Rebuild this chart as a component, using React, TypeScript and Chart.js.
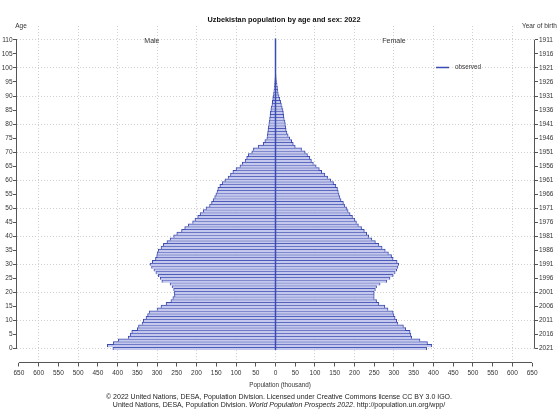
import React, { useEffect, useRef } from 'react';
import { Chart, registerables } from 'chart.js';

Chart.register(...registerables);

// Population (thousand) by single year of age 0..100
const maleValues = [
  412, 426, 411, 398, 373, 368, 364, 350, 347, 338,
  335, 328, 324, 320, 300, 290, 277, 265, 260, 256,
  256, 258, 262, 267, 288, 292, 297, 303, 308, 314,
  318, 312, 304, 301, 300, 297, 290, 284, 275, 267,
  258, 250, 238, 230, 221, 210, 204, 197, 191, 183,
  176, 167, 162, 158, 154, 151, 148, 146, 141, 135,
  128, 120, 114, 108, 100, 90, 84, 77, 73, 69,
  60, 56, 44, 31, 27, 22, 21, 20, 19, 18,
  17, 16, 15, 14, 13, 12, 11, 9, 8, 7,
  6, 5, 4, 3, 2.5, 2, 1.5, 1, 0.7, 0.5,
  0.4,
];
const femaleValues = [
  383, 396, 385, 366, 345, 343, 341, 330, 324, 310,
  307, 303, 300, 298, 285, 277, 262, 256, 250, 250,
  250, 253, 256, 265, 282, 290, 298, 303, 307, 310,
  312, 308, 298, 294, 286, 278, 270, 262, 253, 244,
  236, 231, 225, 218, 210, 205, 201, 195, 189, 184,
  180, 175, 172, 166, 163, 161, 159, 157, 153, 147,
  140, 132, 125, 117, 111, 103, 96, 91, 87, 81,
  75, 66, 50, 45, 41, 36, 32, 29, 27, 26,
  25, 24, 22, 21, 20, 19, 17, 15, 13, 11,
  9, 7, 6, 5, 4, 3, 2, 1.5, 1, 0.7,
  0.5,
];
const ages = maleValues.map((_, i) => i);
const ageTicks = [0, 5, 10, 15, 20, 25, 30, 35, 40, 45, 50, 55, 60, 65, 70, 75, 80, 85, 90, 95, 100, 105, 110];
const populationTicks = [
  -650, -600, -550, -500, -450, -400, -350, -300, -250, -200, -150, -100, -50, 0,
  50, 100, 150, 200, 250, 300, 350, 400, 450, 500, 550, 600, 650,
];
const referenceYear = 2021;
const titleText = 'Uzbekistan population by age and sex: 2022';
const legendLabel = 'observed';
const footerLine1 = '\u00A9 2022 United Nations, DESA, Population Division. Licensed under Creative Commons license CC BY 3.0 IGO.';
const footerLine2a = 'United Nations, DESA, Population Division. ';
const footerLine2b = 'World Population Prospects 2022';
const footerLine2c = '. http://population.un.org/wpp/';

const FONT = '"Liberation Sans", Arial, Helvetica, sans-serif';
const BAR_BORDER = '#3c4bb0';
const BAR_FILL = '#c4c8ec';
const AXIS = '#555';
const GRID = '#cfcfcf';

export default function App() {
  const ref = useRef<HTMLCanvasElement>(null);

  useEffect(() => {
    const canvas = ref.current;
    if (!canvas) return;

    const decor = {
      id: 'decor',
      afterDatasetsDraw(chart: any) {
        const { ctx, scales } = chart;
        const x = scales.x;
        const y = scales.y;
        ctx.save();
        ctx.strokeStyle = BAR_BORDER;
        ctx.lineWidth = 1.5;
        const cx = x.getPixelForValue(0);
        ctx.beginPath();
        ctx.moveTo(cx, y.getPixelForValue(-0.5));
        ctx.lineTo(cx, y.getPixelForValue(110.5));
        ctx.stroke();
        ctx.restore();
      },
      afterDraw(chart: any) {
        const { ctx, scales, chartArea } = chart;
        const x = scales.x;
        const y = scales.y;
        ctx.save();
        ctx.strokeStyle = AXIS;
        ctx.lineWidth = 1;
        const yTop = y.getPixelForValue(110);
        const yBot = y.getPixelForValue(0);
        ctx.beginPath();
        ctx.moveTo(chartArea.left, yTop);
        ctx.lineTo(chartArea.left, yBot);
        ctx.moveTo(chartArea.right, yTop);
        ctx.lineTo(chartArea.right, yBot);
        ctx.moveTo(x.getPixelForValue(-650), x.top);
        ctx.lineTo(x.getPixelForValue(650), x.top);
        ctx.stroke();

        ctx.textBaseline = 'middle';
        ctx.fillStyle = '#111';
        ctx.textAlign = 'center';
        ctx.font = `bold 7.3px ${FONT}`;
        ctx.fillText(titleText, 284, 19.5);

        ctx.fillStyle = '#333';
        ctx.font = `6.5px ${FONT}`;
        ctx.fillText('Age', 21, 26);
        ctx.textAlign = 'left';
        ctx.fillText('Year of birth', 522, 26);
        ctx.textAlign = 'center';
        ctx.font = `7px ${FONT}`;
        ctx.fillText('Male', x.getPixelForValue(-313), 41.5);
        ctx.fillText('Female', x.getPixelForValue(300), 41.5);

        ctx.strokeStyle = BAR_BORDER;
        ctx.lineWidth = 1.5;
        ctx.beginPath();
        ctx.moveTo(436, 67.5);
        ctx.lineTo(449, 67.5);
        ctx.stroke();
        ctx.fillStyle = '#333';
        ctx.textAlign = 'left';
        ctx.font = `6.3px ${FONT}`;
        ctx.fillText(legendLabel, 455, 67.5);

        ctx.textAlign = 'center';
        ctx.font = `6.3px ${FONT}`;
        ctx.fillText('Population (thousand)', 280, 385.5);

        ctx.fillStyle = '#222';
        ctx.font = `7px ${FONT}`;
        const fcx = 279;
        ctx.fillText(footerLine1, fcx, 397);
        const fN = `7px ${FONT}`;
        const fI = `italic 7px ${FONT}`;
        ctx.font = fN;
        const wa = ctx.measureText(footerLine2a).width;
        const wc = ctx.measureText(footerLine2c).width;
        ctx.font = fI;
        const wb = ctx.measureText(footerLine2b).width;
        let sx = fcx - (wa + wb + wc) / 2;
        ctx.textAlign = 'left';
        ctx.font = fN;
        ctx.fillText(footerLine2a, sx, 405.5);
        sx += wa;
        ctx.font = fI;
        ctx.fillText(footerLine2b, sx, 405.5);
        sx += wb;
        ctx.font = fN;
        ctx.fillText(footerLine2c, sx, 405.5);
        ctx.restore();
      },
    };

    const tickFont = { family: FONT, size: 6.5 };

    const chart = new Chart(canvas, {
      type: 'bar',
      data: {
        datasets: [
          {
            label: 'Male',
            data: ages.map((a) => ({ x: -maleValues[a], y: a })),
            backgroundColor: BAR_FILL,
            borderColor: BAR_BORDER,
            borderWidth: { top: 1, bottom: 0, left: 1, right: 1 },
            grouped: false,
            categoryPercentage: 1,
            barPercentage: 1,
          } as any,
          {
            label: 'Female',
            data: ages.map((a) => ({ x: femaleValues[a], y: a })),
            backgroundColor: BAR_FILL,
            borderColor: BAR_BORDER,
            borderWidth: { top: 1, bottom: 0, left: 1, right: 1 },
            grouped: false,
            categoryPercentage: 1,
            barPercentage: 1,
          } as any,
        ],
      },
      options: {
        indexAxis: 'y',
        responsive: false,
        animation: false,
        devicePixelRatio: 1,
        layout: { padding: { top: 26, left: 0, right: 0, bottom: 0 } },
        plugins: {
          legend: { display: false },
          title: { display: false },
          tooltip: { enabled: false },
        },
        scales: {
          x: {
            type: 'linear',
            min: -656,
            max: 656,
            offset: false,
            afterBuildTicks: (s: any) => {
              s.ticks = populationTicks.map((v) => ({ value: v }));
            },
            afterFit: (s: any) => {
              s.height = 50.5;
            },
            ticks: {
              autoSkip: false,
              maxRotation: 0,
              padding: 3,
              color: '#333',
              font: tickFont,
              callback: (v: any) => String(Math.abs(Number(v))),
            },
            grid: {
              offset: false,
              color: (c: any) => (c.tick && c.tick.value % 100 === 0 ? GRID : 'rgba(0,0,0,0)'),
              lineWidth: 1,
              drawTicks: true,
              tickLength: 4,
              tickColor: AXIS,
              tickWidth: 1,
            },
            border: { display: false, dash: [1, 2] },
          },
          y: {
            type: 'linear',
            position: 'left',
            min: -4.94,
            max: 114.94,
            offset: false,
            afterBuildTicks: (s: any) => {
              s.ticks = ageTicks.map((v) => ({ value: v }));
            },
            afterFit: (s: any) => {
              s.width = 16.5;
            },
            ticks: {
              autoSkip: false,
              padding: 0.5,
              color: '#333',
              font: tickFont,
              callback: (v: any) => String(v),
            },
            grid: {
              offset: false,
              color: (c: any) => (c.tick && c.tick.value % 10 === 0 ? GRID : 'rgba(0,0,0,0)'),
              lineWidth: 1,
              drawTicks: true,
              tickLength: 3.5,
              tickColor: AXIS,
              tickWidth: 1,
            },
            border: { display: false, dash: [1, 2] },
          },
          y2: {
            type: 'linear',
            position: 'right',
            min: -4.94,
            max: 114.94,
            offset: false,
            afterBuildTicks: (s: any) => {
              s.ticks = ageTicks.map((v) => ({ value: v }));
            },
            afterFit: (s: any) => {
              s.width = 23.5;
            },
            ticks: {
              autoSkip: false,
              padding: 1,
              color: '#333',
              font: tickFont,
              callback: (v: any) => String(referenceYear - Number(v)),
            },
            grid: {
              offset: false,
              drawOnChartArea: false,
              drawTicks: true,
              tickLength: 3.5,
              tickColor: AXIS,
              tickWidth: 1,
            },
            border: { display: false },
          },
        },
      } as any,
      plugins: [decor],
    });

    return () => {
      chart.destroy();
    };
  }, []);

  return (
    <div style={{ position: 'absolute', left: 0, top: 0, width: 558, height: 413, background: '#fff' }}>
      <canvas ref={ref} width={558} height={413} style={{ display: 'block', width: 558, height: 413 }} />
    </div>
  );
}
